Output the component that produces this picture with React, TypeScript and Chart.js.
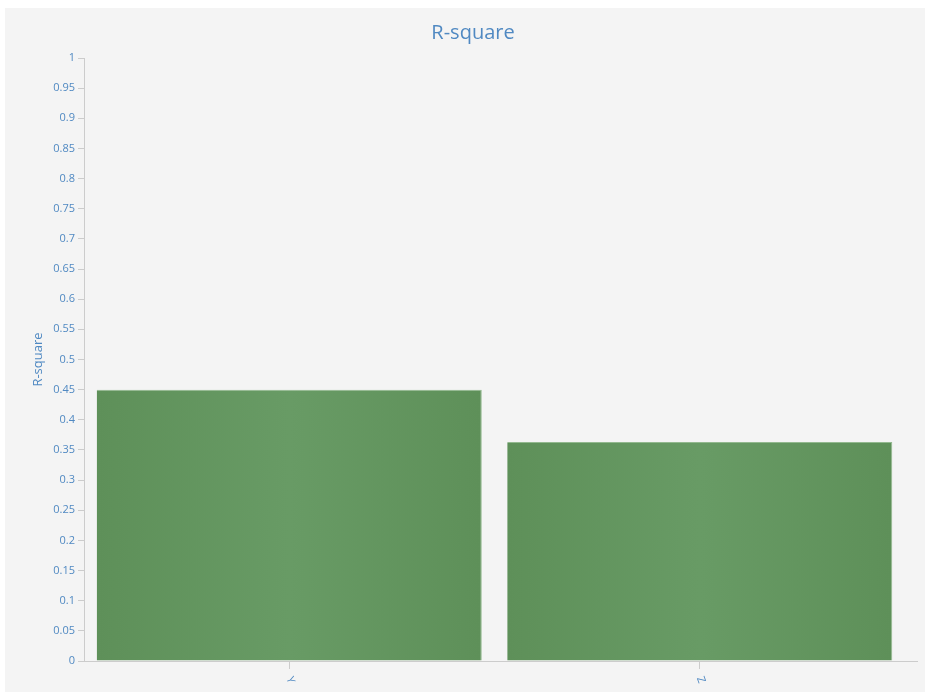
import React, { useEffect, useRef } from "react";
import { Chart, registerables } from "chart.js";

Chart.register(...registerables);

const categories = ["Y", "Z"];
const rSquare = [0.45, 0.363];
const chartTitle = "R-square";
const yAxisTitle = "R-square";

const TEXT_COLOR = "#5089c2";
const AXIS_COLOR = "#cccccc";
const FONT = "'Open Sans', 'Noto Sans', sans-serif";

const decorPlugin = {
  id: "decorPlugin",
  afterDraw(chart: any) {
    const ctx = chart.ctx;
    const x = chart.scales.x;
    ctx.save();
    // extend x axis line to the right
    ctx.strokeStyle = AXIS_COLOR;
    ctx.lineWidth = 1;
    ctx.beginPath();
    ctx.moveTo(x.right, x.top + 0.5);
    ctx.lineTo(x.right + 13, x.top + 0.5);
    ctx.stroke();
    // title
    ctx.fillStyle = TEXT_COLOR;
    ctx.font = `20px ${FONT}`;
    ctx.textAlign = "center";
    ctx.textBaseline = "middle";
    ctx.fillText(chartTitle, chart.width / 2 + 8, 25);
    // x labels
    ctx.font = `11px ${FONT}`;
    categories.forEach((label, i) => {
      const px = x.getPixelForValue(i);
      ctx.save();
      ctx.translate(px + 1, x.top + 19);
      ctx.rotate((70 * Math.PI) / 180);
      ctx.fillText(label, 0, 0);
      ctx.restore();
    });
    ctx.restore();
  },
};

export default function App() {
  const ref = useRef<HTMLCanvasElement | null>(null);

  useEffect(() => {
    document.body.style.margin = "0";
    if (!ref.current) return;
    const barPct = 0.938;
    const chart = new Chart(ref.current, {
      type: "bar",
      data: {
        labels: categories,
        datasets: [
          {
            label: yAxisTitle,
            data: rSquare,
            backgroundColor: (c: any) => {
              const ch = c.chart;
              const area = ch.chartArea;
              const xs = ch.scales.x;
              if (!area || !xs) return "#64975f";
              const catW = (area.right - area.left) / categories.length;
              const w = catW * barPct;
              const cx = xs.getPixelForValue(c.dataIndex);
              const g = ch.ctx.createLinearGradient(cx - w / 2, 0, cx + w / 2, 0);
              g.addColorStop(0, "#5e9059");
              g.addColorStop(0.5, "#689b65");
              g.addColorStop(1, "#5e9059");
              return g;
            },
            borderColor: "#93b98f",
            borderWidth: { top: 1, right: 1, left: 0, bottom: 0 },
            borderSkipped: false,
            barPercentage: barPct,
            categoryPercentage: 1,
          },
        ],
      },
      options: {
        animation: false,
        responsive: true,
        maintainAspectRatio: false,
        layout: { padding: { left: 0, right: 20, top: 0, bottom: 0 } },
        plugins: {
          legend: { display: false },
          tooltip: { enabled: false },
          title: {
            display: true,
            text: chartTitle,
            color: "rgba(0,0,0,0)",
            font: { family: FONT, size: 20, weight: "normal" },
            padding: { top: 13, bottom: 13 },
          },
        },
        scales: {
          x: {
            afterFit: (s: any) => {
              s.height = 31;
            },
            border: { display: true, color: AXIS_COLOR, width: 1 },
            grid: {
              display: true,
              drawOnChartArea: false,
              drawTicks: true,
              tickLength: 8,
              color: AXIS_COLOR,
              offset: false,
            },
            ticks: { display: false },
          },
          y: {
            min: 0,
            max: 1,
            afterFit: (s: any) => {
              s.width = 79;
            },
            border: { display: true, color: AXIS_COLOR, width: 1 },
            grid: {
              display: true,
              drawOnChartArea: false,
              drawTicks: true,
              tickLength: 6,
              color: AXIS_COLOR,
            },
            ticks: {
              stepSize: 0.05,
              color: TEXT_COLOR,
              padding: 3,
              font: { family: FONT, size: 11 },
              callback: (v: any) => String(Number(Number(v).toFixed(2))),
            },
            title: {
              display: true,
              text: yAxisTitle,
              color: TEXT_COLOR,
              font: { family: FONT, size: 13 },
              padding: { top: 25, bottom: 0 },
            },
          },
        },
      },
      plugins: [decorPlugin],
    });
    return () => chart.destroy();
  }, []);

  return (
    <div
      style={{
        position: "absolute",
        left: 5,
        top: 8,
        width: 920,
        height: 684,
        background: "#f4f4f4",
      }}
    >
      <canvas ref={ref} />
    </div>
  );
}
